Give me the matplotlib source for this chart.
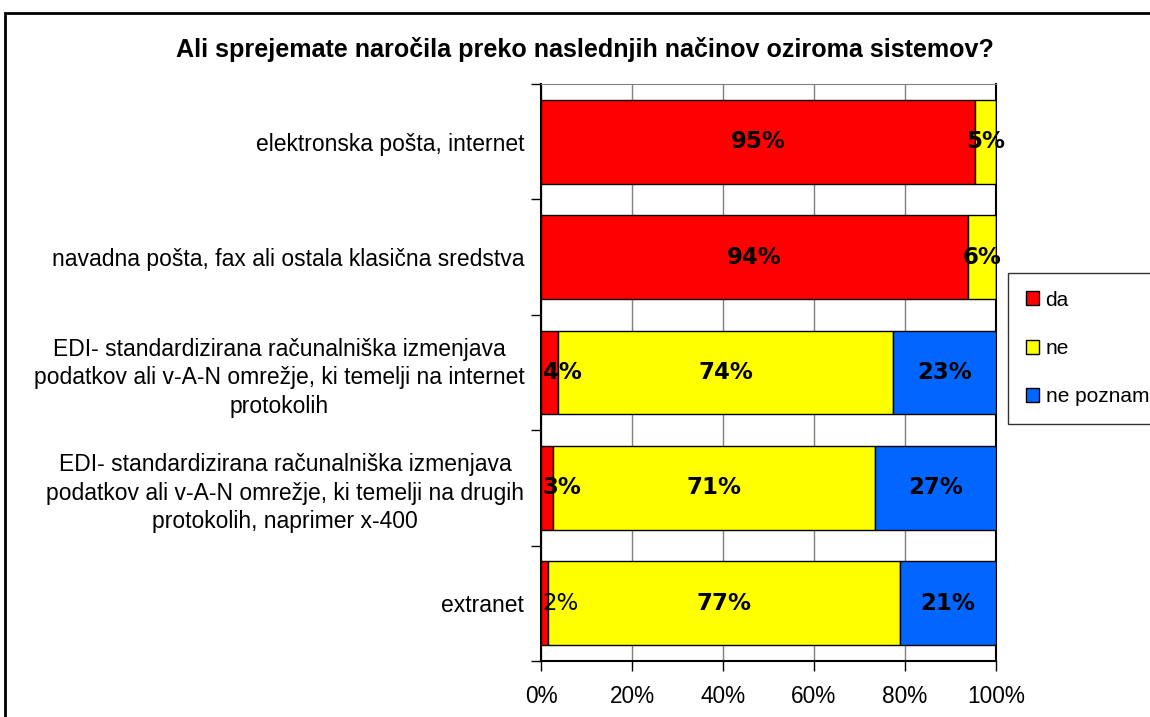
import matplotlib.pyplot as plt
from matplotlib.patches import Rectangle
from matplotlib.ticker import FixedLocator

plt.rcParams['font.family'] = ['Liberation Sans', 'DejaVu Sans']

title = "Ali sprejemate naročila preko naslednjih načinov oziroma sistemov?"

categories = [
    "elektronska pošta, internet",
    "navadna pošta, fax ali ostala klasična sredstva",
    "EDI- standardizirana računalniška izmenjava\npodatkov ali v-A-N omrežje, ki temelji na internet\nprotokolih",
    "EDI- standardizirana računalniška izmenjava\npodatkov ali v-A-N omrežje, ki temelji na drugih\nprotokolih, naprimer x-400",
    "extranet",
]

series_names = ["da", "ne", "ne poznam"]
da = [95.4, 93.8, 3.8, 2.6, 1.5]
ne = [4.6, 6.2, 73.6, 70.8, 77.4]
ne_poznam = [0.0, 0.0, 22.6, 26.6, 21.1]
colors = ["#FF0000", "#FFFF00", "#0066FF"]

xticks = [0, 20, 40, 60, 80, 100]
xtick_labels = ["0%", "20%", "40%", "60%", "80%", "100%"]

fig = plt.figure(figsize=(11.5, 7.17), dpi=100)
ax = fig.add_axes([541 / 1150, 56 / 717, 455 / 1150, 577 / 717])

# outer frame of the chart
fig.patches.append(Rectangle((5 / 1150, -0.05), 1.2, 1 - 13 / 717 + 0.05,
                             transform=fig.transFigure, fill=False,
                             edgecolor="black", linewidth=2))

ypos = list(range(len(categories)))
left = [0.0] * len(categories)
for name, vals, col in zip(series_names, [da, ne, ne_poznam], colors):
    ax.barh(ypos, vals, left=left, height=0.725, color=col,
            edgecolor="black", linewidth=1, label=name, zorder=3)
    for i, v in enumerate(vals):
        if v <= 0:
            continue
        txt = f"{v:.0f}%"
        weight = "normal" if (name == "da" and i == 4) else "bold"
        if name == "da" and v < 6:
            ax.text(0.4, i, txt, ha="left", va="center", fontsize=16.5,
                    family="DejaVu Sans", weight=weight, zorder=4)
        else:
            ax.text(left[i] + v / 2, i, txt, ha="center", va="center",
                    fontsize=16.5, family="DejaVu Sans", weight=weight, zorder=4)
    left = [l + v for l, v in zip(left, vals)]

ax.set_xlim(0, 100)
ax.set_ylim(len(categories) - 0.5, -0.5)
ax.set_xticks(xticks)
ax.set_xticklabels(xtick_labels, fontsize=16.3)
ax.tick_params(axis="x", length=7, width=1, pad=10)

ax.set_yticks(ypos)
ax.set_yticklabels(categories, fontsize=16.5, multialignment="center",
                   linespacing=1.3)
ax.yaxis.set_minor_locator(FixedLocator([i - 0.5 for i in range(len(categories) + 1)]))
ax.tick_params(axis="y", which="major", length=0, pad=12)
ax.tick_params(axis="y", which="minor", length=7, width=1)

ax.grid(axis="x", color="#808080", linewidth=1, zorder=0)
ax.set_axisbelow(True)
for s in ["left", "bottom", "right"]:
    ax.spines[s].set_color("black")
    ax.spines[s].set_linewidth(1.5)
ax.spines["top"].set_color("#808080")

fig.text(585 / 1150, 1 - 50 / 717, title, ha="center", va="center",
         fontsize=18.1, weight="bold")

leg = fig.legend(loc="upper left", bbox_to_anchor=(1008 / 1150, 1 - 273 / 717),
                 fontsize=15, frameon=True, fancybox=False, edgecolor="black",
                 handlelength=0.65, handleheight=0.65, handletextpad=0.3,
                 labelspacing=1.4, borderpad=0.85, borderaxespad=0)
leg.get_frame().set_linewidth(1)

fig.savefig("out.png", dpi=100)
